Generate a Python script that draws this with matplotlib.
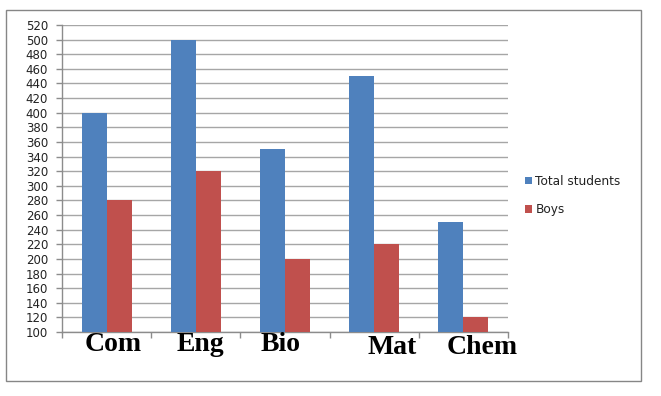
import matplotlib
matplotlib.use("Agg")
import matplotlib.pyplot as plt
from matplotlib.patches import Rectangle
import numpy as np

categories = ["Com", "Eng", "Bio", "Mat", "Chem"]
total_students = [400, 500, 350, 450, 250]
boys = [280, 320, 200, 220, 120]
series_names = ["Total students", "Boys"]
yticks = list(range(100, 521, 20))

# label placement tweaks (points) to mimic the hand-placed labels
label_dx = [4.6, 3.4, -3.2, 13.0, 13.2]
label_dy = [-14.0, -13.8, -13.8, -15.8, -16.0]

blue = "#4F81BD"
red = "#C0504D"
grid_c = "#A6A6A6"
spine_c = "#8C8C8C"

fig = plt.figure(figsize=(6.61, 3.96), dpi=100)
fig.patch.set_facecolor("white")

# outer chart border
fig.patches.append(Rectangle((6 / 661, 1 - 381 / 396), (641 - 6) / 661, (381 - 10) / 396,
                             transform=fig.transFigure, fill=False,
                             edgecolor="#868686", linewidth=1.0))

ax = fig.add_axes([62 / 661, 1 - 332 / 396, (508 - 62) / 661, (332 - 25) / 396])
x = np.arange(len(categories))
w = 0.28
ax.bar(x - w / 2, total_students, width=w, color=blue, label=series_names[0], zorder=3)
ax.bar(x + w / 2, boys, width=w, color=red, label=series_names[1], zorder=3)

ax.set_xlim(-0.5, len(categories) - 0.5)
ax.set_ylim(100, 520)
ax.set_yticks(yticks)
ax.set_yticklabels([str(v) for v in yticks], fontsize=8.5, family="DejaVu Sans",
                   color="#222222")
ax.yaxis.grid(True, color=grid_c, linewidth=1.0, zorder=0)
ax.set_axisbelow(True)

ax.set_xticks(np.arange(len(categories) + 1) - 0.5)
ax.set_xticklabels([])
ax.tick_params(axis="x", length=4, color=spine_c, width=1)
ax.tick_params(axis="y", length=4, color=spine_c, width=1, pad=6)

for s in ["top", "right"]:
    ax.spines[s].set_visible(False)
for s in ["left", "bottom"]:
    ax.spines[s].set_color(spine_c)
    ax.spines[s].set_linewidth(1.0)

for i, lab in enumerate(categories):
    ax.annotate(lab, xy=(i, 0), xycoords=("data", "axes fraction"),
                xytext=(label_dx[i], label_dy[i]), textcoords="offset points",
                ha="center", va="baseline", fontsize=20, fontweight="bold",
                family="Liberation Serif", annotation_clip=False)

leg = ax.legend(loc="center left", bbox_to_anchor=(525 / 661, 1 - 195.5 / 396),
                bbox_transform=fig.transFigure, frameon=False, fontsize=8.7,
                handlelength=0.55, handleheight=0.55, handletextpad=0.3,
                labelspacing=1.3, borderpad=0, borderaxespad=0)
for t in leg.get_texts():
    t.set_family("DejaVu Sans")
    t.set_color("#222222")

fig.savefig("out.png", dpi=100, facecolor="white")
